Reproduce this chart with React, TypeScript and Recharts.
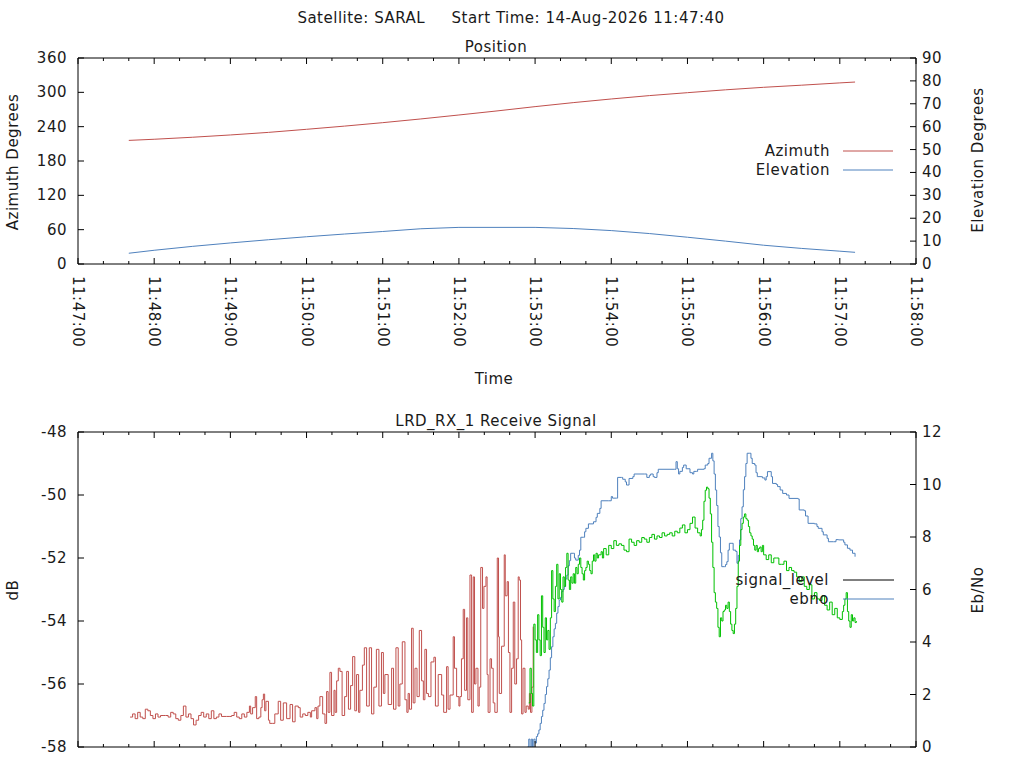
import React from "react";
import { LineChart, Line, XAxis, YAxis } from "recharts";

const FONT = "'DejaVu Sans', Verdana, sans-serif";
const FS = 15;
const LS = 0.5;
const INK = "#1a1a1a";
const RED = "#c0504d";
const BLUE = "#4f81bd";
const GREEN = "#00c000";

// time axis: seconds after 11:47:00
const timeTicks = [
  0, 20, 40, 60, 80, 100, 120, 140, 160, 180, 200, 220, 240, 260, 280, 300, 320,
  340, 360, 380, 400, 420, 440, 460, 480, 500, 520, 540, 560, 580, 600, 620, 640, 660,
];
const minuteLabels = [
  "11:47:00", "11:48:00", "11:49:00", "11:50:00", "11:51:00", "11:52:00",
  "11:53:00", "11:54:00", "11:55:00", "11:56:00", "11:57:00", "11:58:00",
];
const azTicks = [0, 60, 120, 180, 240, 300, 360];
const elTicks = [0, 10, 20, 30, 40, 50, 60, 70, 80, 90];
const dbTicks = [-58, -56, -54, -52, -50, -48];
const ebTicks = [0, 2, 4, 6, 8, 10, 12];

// [seconds, degrees]
const azimuth = [
  [40, 216], [60, 218], [90, 221.5], [120, 225.5], [150, 230], [180, 235.4],
  [210, 241], [240, 247], [270, 253.5], [300, 260.4], [330, 267.5], [360, 275],
  [390, 282], [420, 288.4], [450, 294.3], [480, 299.4], [510, 304.4], [540, 308.8],
  [570, 312.5], [600, 316.5], [612, 318],
];
const elevation = [
  [40, 4.7], [60, 6.0], [90, 7.7], [120, 9.2], [150, 10.6], [180, 11.9],
  [210, 13.1], [240, 14.2], [270, 15.4], [300, 16.0], [330, 16.0], [360, 16.0],
  [390, 15.5], [420, 14.6], [450, 13.3], [480, 11.7], [510, 10.0], [540, 8.2],
  [570, 6.8], [600, 5.6], [612, 5.1],
];

// signal level (dB) before lock
const signalRed = [
  [41, -57.05], [43, -56.95], [45, -57.1], [47, -56.9], [49, -57.05], [51, -57.1],
  [53, -56.8], [55, -56.85], [57, -57.0], [59, -57.1], [61, -56.95], [63, -57.05],
  [65, -57.0], [67, -57.0], [69, -57.0], [71, -57.05], [73, -56.9], [75, -56.95],
  [77, -57.1], [79, -57.15], [81, -57.0], [83, -56.7], [85, -57.05], [87, -56.95],
  [89, -57.1], [91, -57.3], [93, -57.15], [95, -57.0], [97, -56.9], [99, -57.05],
  [101, -56.95], [103, -57.1], [105, -56.85], [107, -57.1], [109, -57.05], [111, -56.95],
  [113, -57.03], [115, -57.03], [117, -57.03], [119, -57.03], [121, -57.0], [123, -56.9],
  [125, -57.05], [127, -57.1], [129, -56.95], [131, -57.05], [133, -56.9],
  [135, -56.7], [136, -56.95], [137.5, -56.75], [139.6, -56.4], [140.7, -57.1],
  [142.5, -57.05], [144, -56.75], [145, -56.5], [146, -56.32], [147, -56.85],
  [148, -56.55], [150, -57.15], [151, -57.25], [153, -57.25], [155, -56.95],
  [157.7, -56.55], [159.6, -57.15], [161.7, -56.6], [164.3, -57.1], [167, -56.65],
  [169, -57.2], [171, -56.7], [173.5, -56.75], [175, -57.05], [177, -56.95],
  [179, -57.0], [181, -56.9], [183, -57.05], [184, -56.85], [186.6, -56.75],
  [188, -57.1], [189, -56.7], [190.5, -56.4], [192.7, -56.95], [194.5, -57.25],
  [195.8, -56.24], [197, -56.9], [198.4, -55.63], [199.7, -57.0], [201.6, -56.2],
  [202.5, -56.9], [203.7, -55.9], [205, -55.5], [206.3, -55.6], [208, -57.0],
  [210, -56.4], [211.6, -55.6], [213, -56.8], [214.7, -56.05], [216.3, -55.13],
  [218, -56.85], [219.4, -55.7], [221, -56.9], [222, -56.2], [224, -55.4],
  [225.5, -54.85], [227.3, -56.7], [229.4, -54.85], [231.2, -56.95], [233, -56.1],
  [235, -54.9], [237, -56.7], [239, -55.0], [240.5, -56.3], [241.7, -55.7],
  [244.3, -56.65], [247, -55.5], [248.5, -56.8], [250.4, -54.85], [252.2, -56.7],
  [253.5, -56.0], [255.4, -54.66], [257.5, -56.5], [259, -56.9], [260, -56.3],
  [261, -56.8], [262.7, -54.23], [264, -56.6], [265.4, -55.5], [267, -56.4],
  [268.8, -54.3], [270.6, -55.9], [272, -56.5], [273.2, -54.9], [274.5, -56.3],
  [276, -56.4], [278, -55.3], [280.3, -55.15], [281.5, -56.7], [283.7, -55.7],
  [286.4, -56.35], [288, -56.9], [290.3, -55.45], [291.5, -56.8], [293, -56.35],
  [295.5, -54.5], [296.5, -55.5], [298.2, -56.4], [300, -56.7], [300.8, -56.4],
  [302, -55.2], [303.4, -53.63], [304.5, -56.2], [306, -53.9], [307, -56.5],
  [308.7, -52.54], [310, -56.9], [311.3, -52.6], [312.3, -56.0], [313.4, -55.5],
  [315, -56.7], [316, -56.1], [317.2, -52.3], [318.6, -53.6], [319.7, -52.9],
  [321.3, -52.6], [322.2, -55.7], [323, -56.9], [324.5, -55.2], [325.7, -55.5],
  [327, -56.6], [328.3, -56.9], [330.2, -52.0], [331.2, -54.5], [331.8, -56.3],
  [333.6, -54.8], [335.7, -51.9], [336.5, -53.2], [338, -52.75], [339, -55.0],
  [340.2, -56.9], [341.5, -55.5], [342.8, -53.4], [344, -56.0], [345.4, -55.2],
  [346.7, -52.6], [347.5, -52.7], [348.5, -54.6], [349.4, -56.95], [350.5, -55.5],
  [352, -56.9], [353, -56.7], [354.6, -56.8], [355.5, -56.3], [356.4, -56.9],
  [357.5, -56.1], [358.5, -54.18],
];

// signal level (dB) after lock
const signalGreen = [
  [355, -56.6], [356, -55.5], [357, -56.3], [358, -56.7], [359, -54.1], [360, -54.6],
  [361, -55.0], [362, -53.8], [363, -54.6], [364, -55.1], [365, -53.2], [366, -54.2],
  [367, -55.0], [368, -53.9], [369, -54.6], [370, -54.3], [371, -54.9], [372, -53.9],
  [373, -52.4], [374, -53.3], [375, -53.7], [376, -52.9], [377, -52.2], [378, -53.3],
  [379, -52.5], [380, -53.0], [381, -53.4], [382, -52.6], [383, -52.9], [384, -52.3],
  [385, -51.85], [386, -52.7], [387, -53.0], [388, -52.6], [389, -52.8], [390, -52.5],
  [391, -52.8], [392, -52.3], [393, -52.5], [394, -52.2], [395, -52.0], [396, -52.3],
  [397, -52.5], [398, -52.7], [399, -52.4], [400, -52.3], [401, -52.1], [402, -52.2],
  [403, -52.4], [404, -52.5], [405, -52.1], [406, -51.9], [407, -52.1], [408, -51.85],
  [409, -52.0], [410, -51.9], [412, -51.8], [413, -52.0], [414, -51.7], [416, -51.9],
  [418, -51.6], [420, -51.7], [422, -51.45], [424, -51.6], [426, -51.55], [428, -51.6],
  [430, -51.75], [432, -51.8], [434, -51.4], [436, -51.5], [438, -51.6], [440, -51.45],
  [442, -51.5], [444, -51.35], [446, -51.4], [448, -51.5], [450, -51.35], [452, -51.25],
  [454, -51.4], [456, -51.3], [458, -51.35], [460, -51.2], [462, -51.3], [464, -51.25],
  [466, -51.2], [468, -51.3], [470, -51.15], [472, -51.2], [474, -51.05], [476, -50.95],
  [478, -51.2], [480, -51.1], [482, -50.9], [484, -50.7], [486, -51.05], [488, -51.2],
  [490, -51.3], [491, -51.1], [492, -50.8], [493, -50.2], [494, -49.85], [495, -49.75],
  [496, -49.8], [497, -50.1], [498, -50.6], [499, -51.5], [500, -52.3], [501, -53.1],
  [502, -53.4], [503, -53.6], [504, -54.2], [505, -54.5], [506, -53.9], [507, -54.0],
  [508, -53.7], [509, -53.65], [510, -53.5], [511, -53.6], [512, -53.4], [513, -53.7],
  [514, -54.1], [515, -54.3], [516, -54.4], [517, -54.1], [518, -53.6], [519, -52.9],
  [520, -52.1], [521, -51.6], [522, -51.1], [523, -50.9], [524, -50.7], [525, -50.6],
  [526, -50.75], [527, -50.8], [528, -51.0], [529, -51.2], [530, -51.3], [531, -51.4],
  [532, -51.6], [533, -51.75], [534, -51.6], [535, -51.8], [536, -51.7], [537, -51.65],
  [538, -51.8], [539, -51.6], [540, -51.9], [542, -52.05], [544, -51.9], [546, -52.15],
  [548, -52.0], [550, -52.0], [552, -52.2], [554, -52.2], [556, -52.1], [558, -52.4],
  [560, -52.3], [562, -52.4], [564, -52.45], [566, -52.6], [568, -52.75], [570, -52.6],
  [572, -52.9], [574, -53.0], [576, -52.85], [578, -53.3], [580, -53.1], [582, -53.3],
  [584, -53.35], [586, -53.2], [588, -53.5], [590, -53.65], [592, -53.4], [594, -53.8],
  [596, -53.6], [598, -53.9], [600, -53.95], [602, -53.7], [603, -53.5], [604, -53.3],
  [605, -53.1], [606, -53.7], [607, -54.0], [608, -54.2], [609, -53.8], [610, -54.0],
  [611, -53.9], [612, -54.05], [613, -54.0],
];

// Eb/No
const ebno = [
  [354, 0], [355, 0.3], [356, 0], [357, 0.3], [358, 0], [359, 0.3], [360, 0.15],
  [361, 0.4], [362, 0.5], [363, 0.65], [364, 0.9], [365, 1.16], [366, 1.4], [367, 1.66],
  [368, 2.0], [369, 2.3], [370, 2.6], [371, 2.93], [372, 3.4], [373, 3.82], [374, 4.2],
  [375, 4.5], [376, 4.71], [377, 5.1], [378, 5.35], [379, 5.6], [380, 5.7], [381, 5.92],
  [382, 6.0], [383, 6.11], [384, 6.4], [385, 6.55], [386, 6.9], [387, 7.1], [388, 7.38],
  [390, 7.38], [391, 7.2], [392, 7.12], [394, 7.3], [395, 7.5], [396, 7.99], [398, 7.99],
  [399, 8.2], [400, 8.33], [402, 8.5], [404, 8.5], [406, 8.58], [408, 8.75], [409, 8.9],
  [411, 9.09], [412, 9.38], [418, 9.38], [420, 9.54], [421, 9.48], [424, 9.48],
  [425, 10.27], [428, 10.27], [429, 10.2], [431, 10.1], [432, 9.98], [434, 10.23],
  [437, 10.3], [438, 10.4], [446, 10.4], [448, 10.27], [450, 10.35], [451, 10.4],
  [453, 10.3], [454, 10.27], [456, 10.45], [457, 10.58], [470, 10.58], [471, 10.87],
  [472, 10.6], [473, 10.4], [474, 10.5], [476, 10.65], [477, 10.74], [479, 10.6],
  [482, 10.45], [484, 10.4], [485, 10.5], [487, 10.5], [488, 10.58], [493, 10.6],
  [494, 10.74], [496, 10.8], [497, 11.0], [499, 11.19], [500, 10.9], [501, 10.4],
  [502, 9.79], [503, 9.2], [504, 8.4], [505, 8.0], [506, 7.4], [507, 6.87], [509, 6.87],
  [510, 6.95], [511, 7.06], [512, 7.5], [513, 7.76], [515, 7.76], [516, 7.5], [518, 7.45],
  [519, 7.0], [520, 7.3], [521, 7.89], [522, 8.7], [523, 9.15], [524, 9.8], [525, 10.3],
  [526, 10.8], [527, 11.19], [529, 11.19], [530, 11.0], [531, 10.8], [533, 10.74],
  [534, 10.45], [535, 10.3], [538, 10.3], [539, 10.25], [541, 10.17], [542, 10.3],
  [543, 10.49], [545, 10.49], [546, 10.3], [547, 10.04], [550, 10.0], [551, 9.92],
  [553, 9.79], [555, 9.66], [558, 9.6], [560, 9.47], [567, 9.45], [568, 9.03], [572, 9.0],
  [573, 8.8], [575, 8.52], [580, 8.5], [582, 8.4], [583, 8.33], [586, 8.2], [587, 8.08],
  [590, 7.95], [591, 7.82], [595, 7.82], [597, 7.9], [599, 7.89], [603, 7.8], [604, 7.7],
  [606, 7.57], [608, 7.5], [610, 7.38], [612, 7.25],
];

const rows = (pairs: number[][]) => pairs.map(([t, v]) => ({ t, v }));

const W = 1024;
const H = 768;
const LEFT = 78;
const RIGHT = 108;

function TimeTick(props: any) {
  const { x, y, payload, side, labels } = props;
  const major = payload.value % 60 === 0;
  const len = major ? 6 : 3;
  const dir = side === "top" ? 1 : -1;
  const label = major && labels ? minuteLabels[payload.value / 60] : null;
  return (
    <g>
      <line x1={x} x2={x} y1={y} y2={y + dir * len} stroke="#000" />
      {label && (
        <text
          transform={`translate(${x},${y + 12}) rotate(90)`}
          dominantBaseline="central"
          textAnchor="start"
          fontFamily={FONT}
          fontSize={FS}
          letterSpacing={LS}
          fill={INK}
        >
          {label}
        </text>
      )}
    </g>
  );
}

function ValueTick(props: any) {
  const { x, y, payload, side } = props;
  const dir = side === "left" ? 1 : -1;
  return (
    <g>
      <line x1={x} x2={x + dir * 6} y1={y} y2={y} stroke="#000" />
      <text
        x={side === "left" ? x - 11 : x + 6}
        y={y}
        dominantBaseline="central"
        textAnchor={side === "left" ? "end" : "start"}
        fontFamily={FONT}
        fontSize={FS}
        letterSpacing={LS}
        fill={INK}
      >
        {payload.value}
      </text>
    </g>
  );
}

function Panel({ top, bottom, leftId, rightId, leftDomain, rightDomain, leftTicks, rightTicks, labels, children }: any) {
  const frame = { stroke: "#000" };
  return (
    <div style={{ position: "absolute", left: 0, top: 0 }}>
      <LineChart width={W} height={H} margin={{ top: top - 1, right: RIGHT - 1, bottom: H - bottom - 1, left: LEFT - 1 }}>
        <XAxis xAxisId="b" dataKey="t" type="number" domain={[0, 660]} ticks={timeTicks} interval={0}
          height={1} tickSize={0} tickMargin={0} tickLine={false} axisLine={frame} allowDataOverflow
          tick={(p: any) => <TimeTick {...p} side="bottom" labels={labels} />} />
        <XAxis xAxisId="t" orientation="top" dataKey="t" type="number" domain={[0, 660]} ticks={timeTicks} interval={0}
          height={1} tickSize={0} tickMargin={0} tickLine={false} axisLine={frame} allowDataOverflow
          tick={(p: any) => <TimeTick {...p} side="top" />} />
        <YAxis yAxisId={leftId} domain={leftDomain} ticks={leftTicks} interval={0} width={1} tickSize={0} tickMargin={0}
          tickLine={false} axisLine={frame} allowDataOverflow tick={(p: any) => <ValueTick {...p} side="left" />} />
        <YAxis yAxisId={rightId} orientation="right" domain={rightDomain} ticks={rightTicks} interval={0} width={1}
          tickSize={0} tickMargin={0} tickLine={false} axisLine={frame} allowDataOverflow
          tick={(p: any) => <ValueTick {...p} side="right" />} />
        {children}
      </LineChart>
    </div>
  );
}

export default function App() {
  return (
    <div style={{ position: "absolute", left: 0, top: 0, width: W, height: H, overflow: "hidden", background: "#fff" }}>
      <Panel top={58} bottom={264} leftId="az" rightId="el" leftDomain={[0, 360]} rightDomain={[0, 90]}
        leftTicks={azTicks} rightTicks={elTicks} labels>
        <Line xAxisId="b" yAxisId="az" data={rows(azimuth)} dataKey="v" type="linear" stroke={RED} strokeWidth={1}
          dot={false} activeDot={false} isAnimationActive={false} />
        <Line xAxisId="b" yAxisId="el" data={rows(elevation)} dataKey="v" type="linear" stroke={BLUE} strokeWidth={1}
          dot={false} activeDot={false} isAnimationActive={false} />
      </Panel>
      <Panel top={432} bottom={747} leftId="db" rightId="eb" leftDomain={[-58, -48]} rightDomain={[0, 12]}
        leftTicks={dbTicks} rightTicks={ebTicks} labels={false}>
        <Line xAxisId="b" yAxisId="db" data={rows(signalRed)} dataKey="v" type="stepAfter" stroke={RED} strokeWidth={1}
          dot={false} activeDot={false} isAnimationActive={false} />
        <Line xAxisId="b" yAxisId="eb" data={rows(ebno)} dataKey="v" type="stepAfter" stroke={BLUE} strokeWidth={1}
          dot={false} activeDot={false} isAnimationActive={false} />
        <Line xAxisId="b" yAxisId="db" data={rows(signalGreen)} dataKey="v" type="stepAfter" stroke={GREEN} strokeWidth={1}
          dot={false} activeDot={false} isAnimationActive={false} />
      </Panel>
      <svg width={W} height={H} style={{ position: "absolute", left: 0, top: 0, pointerEvents: "none" }}
        fontFamily={FONT} fontSize={FS} letterSpacing={LS} fill={INK}>
        <text x={511} y={22.5} textAnchor="middle">
          {"Satellite: SARAL\u00a0\u00a0\u00a0\u00a0\u00a0Start Time: 14-Aug-2026 11:47:40"}
        </text>
        <text x={496} y={52} textAnchor="middle">Position</text>
        <text x={494} y={384} textAnchor="middle">Time</text>
        <text x={496} y={426} textAnchor="middle">LRD_RX_1 Receive Signal</text>
        <text transform="translate(18,162) rotate(-90)" textAnchor="middle">Azimuth Degrees</text>
        <text transform="translate(983,160) rotate(-90)" textAnchor="middle">Elevation Degrees</text>
        <text transform="translate(18,590) rotate(-90)" textAnchor="middle">dB</text>
        <text transform="translate(983,590) rotate(-90)" textAnchor="middle">Eb/No</text>

        <text x={830} y={151} textAnchor="end" dominantBaseline="central">Azimuth</text>
        <line x1={843} x2={893} y1={151} y2={151} stroke={RED} />
        <text x={830} y={170} textAnchor="end" dominantBaseline="central">Elevation</text>
        <line x1={843} x2={893} y1={170} y2={170} stroke={BLUE} />

        <text x={829} y={580} textAnchor="end" dominantBaseline="central">signal_level</text>
        <line x1={843} x2={894} y1={580} y2={580} stroke="#000" />
        <text x={829} y={599} textAnchor="end" dominantBaseline="central">ebno</text>
        <line x1={843} x2={894} y1={599} y2={599} stroke={BLUE} />
      </svg>
    </div>
  );
}
